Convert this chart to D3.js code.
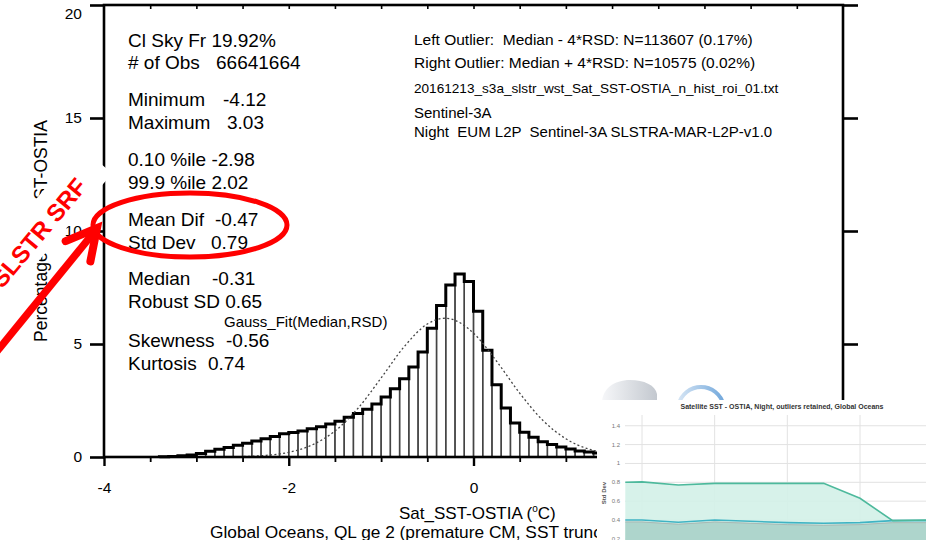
<!DOCTYPE html>
<html><head><meta charset="utf-8">
<script src="https://cdn.jsdelivr.net/npm/d3@7"></script>
<style>
html,body{margin:0;padding:0;background:#fff;overflow:hidden;}
svg{display:block;font-family:"Liberation Sans",Arial,Helvetica,sans-serif;}
text{white-space:pre;}
</style></head><body>
<svg id="c" width="926" height="540"></svg>
<script>
// ---------------- data ----------------
const binStarts = [-3.4,-3.3,-3.2,-3.1,-3.0,-2.9,-2.8,-2.7,-2.6,-2.5,-2.4,-2.3,-2.2,-2.1,-2.0,-1.9,-1.8,-1.7,-1.6,-1.5,-1.4,-1.3,-1.2,-1.1,-1.0,-0.9,-0.8,-0.7,-0.6,-0.5,-0.4,-0.3,-0.2,-0.1,0.0,0.1,0.2,0.3,0.4,0.5,0.6,0.7,0.8,0.9,1.0,1.1,1.2,1.3];
const binPercent = [0.01,0.02,0.05,0.09,0.15,0.25,0.34,0.42,0.52,0.61,0.71,0.81,0.91,1.03,1.08,1.15,1.25,1.34,1.46,1.58,1.76,1.93,2.11,2.35,2.65,3.02,3.46,3.98,4.65,5.7,6.7,7.61,8.1,7.76,6.45,4.72,3.2,2.17,1.5,1.09,0.87,0.68,0.55,0.44,0.35,0.27,0.22,0.18];
const binWidth = 0.1;

const gaussX = [-3.25,-3.0,-2.75,-2.5,-2.25,-2.0,-1.75,-1.5,-1.25,-1.0,-0.75,-0.5,-0.31,-0.25,0,0.25,0.5,0.75,1.0,1.25,1.5,1.75,2.0];
const gaussY = [0.0,0.001,0.005,0.021,0.071,0.209,0.528,1.149,2.158,3.496,4.883,5.884,6.14,6.114,5.48,4.237,2.826,1.624,0.806,0.345,0.127,0.04,0.011];

const xMajorTicks = [-4,-2,0,2,4];
const xMinorTicks = [-3.5,-3,-2.5,-1.5,-1,-0.5,0.5,1,1.5,2.5,3,3.5];
const xTopTicks = [-3.5,-3,-2.5,-2,-1.5,-1,-0.5,0,0.5,1,1.5,2,2.5,3,3.5];
const yTicks = [0,5,10,15,20];

const statNames  = ["Cl Sky Fr","# of Obs","Minimum","Maximum","0.10 %ile","99.9 %ile","Mean Dif","Std Dev","Median","Robust SD","Skewness","Kurtosis"];
const statValues = ["19.92%","66641664","-4.12","3.03","-2.98","2.02","-0.47","0.79","-0.31","0.65","-0.56","0.74"];

const infoLines = ["Left Outlier:  Median - 4*RSD: N=113607 (0.17%)",
                   "Right Outlier: Median + 4*RSD: N=10575 (0.02%)",
                   "20161213_s3a_slstr_wst_Sat_SST-OSTIA_n_hist_roi_01.txt",
                   "Sentinel-3A",
                   "Night  EUM L2P  Sentinel-3A SLSTRA-MAR-L2P-v1.0"];

const xTitle = "Sat_SST-OSTIA (";
const yTitle = "Percentage Sat_SST-OSTIA";
const subTitle = "Global Oceans, QL ge 2 (premature CM, SST truncation)";
const gaussLabel = "Gauss_Fit(Median,RSD)";
const annotText = "SLSTR SRF";

// inset chart
const insetTitle = "Satellite SST - OSTIA, Night, outliers retained, Global Oceans";
const insetT     = [0.77,1.0,1.5,2.0,3.0,3.5,4.0,4.45,4.95];
const insetUpper = [0.80,0.805,0.772,0.789,0.789,0.789,0.63,0.393,0.40];
const insetLower = [0.40,0.40,0.376,0.40,0.372,0.365,0.372,0.393,0.393];
const insetYTicks = [0.2,0.4,0.6,0.8,1,1.2,1.4];
const insetXGrid = [1,2,3,4];

// ---------------- layout ----------------
const statBaselines = [47,69,106,129,166,189,226,249,285,308,347,370];
const statValueX    = [null,216,223,227,null,null,215,211,212,null,226,208];
const infoBaselines = [45,68,93,118,137];
const infoSizes     = [15.5,15.5,13.6,15,15];

const svg = d3.select("#c");
const x = d3.scaleLinear().domain([-4,4]).range([104,843]);
const y = d3.scaleLinear().domain([0,20]).range([457,5]);
const FONT = '"Liberation Sans",Arial,Helvetica,sans-serif';

// ---------------- histogram ----------------
const hist = svg.append("g");
hist.selectAll("rect").data(binStarts).join("rect")
  .attr("x", d => x(d))
  .attr("width", d => x(d + binWidth) - x(d))
  .attr("y", (d,i) => y(binPercent[i]))
  .attr("height", (d,i) => y(0) - y(binPercent[i]))
  .attr("fill", "none").attr("stroke", "#444").attr("stroke-width", 1.4);

const stepPts = [[binStarts[0], 0]];
binStarts.forEach((s,i) => { stepPts.push([s, binPercent[i]]); stepPts.push([s + binWidth, binPercent[i]]); });
hist.append("path")
  .attr("d", d3.line().x(d => x(d[0])).y(d => y(d[1]))(stepPts))
  .attr("fill", "none").attr("stroke", "#000").attr("stroke-width", 3).attr("stroke-linejoin", "miter");

// gaussian
hist.append("path")
  .attr("d", d3.line().x((d,i) => x(gaussX[i])).y(d => y(d)).curve(d3.curveMonotoneX)(gaussY))
  .attr("fill", "none").attr("stroke", "#444").attr("stroke-width", 1.3).attr("stroke-dasharray", "2,2.4");

// ---------------- frame & axes ----------------
svg.append("rect").attr("x", x(-4)).attr("y", y(20)).attr("width", x(4) - x(-4)).attr("height", y(0) - y(20))
  .attr("fill", "none").attr("stroke", "#000").attr("stroke-width", 2.6);

const styleAxis = g => {
  g.select(".domain").remove();
  g.selectAll("text").attr("font-family", FONT).attr("font-size", 15.5).attr("fill", "#000");
};
const yl = svg.append("g").attr("transform", `translate(${x(-4)},0)`)
  .call(d3.axisLeft(y).tickValues(yTicks).tickSize(14).tickPadding(8).tickFormat(d => String(d)))
  .call(styleAxis);
yl.selectAll("line").attr("stroke-width", 2.6);
yl.selectAll(".tick").filter(d => d === 20).select("text").attr("dy", "0.85em");

svg.append("g").attr("transform", `translate(${x(4)},0)`)
  .call(d3.axisRight(y).tickValues(yTicks).tickSize(15).tickFormat(""))
  .call(styleAxis).selectAll("line").attr("stroke-width", 2.6);

svg.append("g").attr("transform", `translate(0,${y(20)})`)
  .call(d3.axisBottom(x).tickValues(xTopTicks).tickSize(4).tickFormat(""))
  .call(styleAxis).selectAll("line").attr("stroke-width", 1.6);

svg.append("g").attr("transform", `translate(0,${y(0)})`)
  .call(d3.axisBottom(x).tickValues(xMinorTicks).tickSize(5).tickFormat(""))
  .call(styleAxis).selectAll("line").attr("stroke-width", 1.8);

const xb = svg.append("g").attr("transform", `translate(0,${y(0)})`)
  .call(d3.axisBottom(x).tickValues(xMajorTicks).tickSize(9).tickPadding(16).tickFormat(d => String(d)))
  .call(styleAxis);
xb.selectAll("line").attr("stroke-width", 2.4);

// axis titles
svg.append("text").attr("transform", "translate(47,231) rotate(-90)")
  .attr("text-anchor", "middle").attr("font-size", 17.5).text(yTitle);

const xt = svg.append("text").attr("x", 399).attr("y", 519).attr("font-size", 17);
xt.append("tspan").text(xTitle);
xt.append("tspan").attr("font-size", 10).attr("dy", -7).text("o");
xt.append("tspan").attr("dy", 7).text("C)");

svg.append("text").attr("x", 210).attr("y", 538).attr("font-size", 17.3).text(subTitle);

// ---------------- stats text ----------------
const st = svg.append("g").attr("font-size", 19);
statNames.forEach((n,i) => {
  const t = st.append("text").attr("x", 128).attr("y", statBaselines[i]);
  if (statValueX[i] === null) { t.text(n + " " + statValues[i]); }
  else { t.append("tspan").text(n); t.append("tspan").attr("x", statValueX[i]).text(statValues[i]); }
});
svg.append("text").attr("x", 224).attr("y", 327).attr("font-size", 15).text(gaussLabel);

infoLines.forEach((s,i) => {
  svg.append("text").attr("x", 414).attr("y", infoBaselines[i]).attr("font-size", infoSizes[i]).text(s);
});

// ---------------- red annotation ----------------
const ann = svg.append("g").attr("transform", "translate(88,187) rotate(-50)");
ann.append("rect").attr("x", -220).attr("y", -32).attr("width", 246).attr("height", 41.7).attr("fill", "#fff");
ann.append("text").attr("text-anchor", "end").attr("font-size", 24).attr("font-weight", "bold")
  .attr("fill", "#ff0000").text(annotText);

const tip = [97, 228];
svg.append("line").attr("x1", -6).attr("y1", 355).attr("x2", tip[0] - 2).attr("y2", tip[1] + 3)
  .attr("stroke", "#ff0000").attr("stroke-width", 7.5);
const back = Math.atan2(119, -97), aLen = 34, spread = 28 * Math.PI / 180;
const head = [
  [tip[0] + aLen * Math.cos(back + spread), tip[1] + aLen * Math.sin(back + spread)],
  tip,
  [tip[0] + aLen * Math.cos(back - spread), tip[1] + aLen * Math.sin(back - spread)]
];
svg.append("path").attr("d", d3.line()(head)).attr("fill", "none")
  .attr("stroke", "#ff0000").attr("stroke-width", 8).attr("stroke-linejoin", "miter").attr("stroke-linecap", "round");

svg.append("ellipse").attr("cx", 190).attr("cy", 225).attr("rx", 97).attr("ry", 32)
  .attr("fill", "none").attr("stroke", "#ff0000").attr("stroke-width", 5);

// ---------------- inset ----------------
const defs = svg.append("defs");
const g1 = defs.append("linearGradient").attr("id", "dome").attr("x1", 0).attr("x2", 1).attr("y1", 0).attr("y2", 0);
g1.append("stop").attr("offset", 0).attr("stop-color", "#f6f7f9");
g1.append("stop").attr("offset", 1).attr("stop-color", "#c3c8cf");
const g2 = defs.append("linearGradient").attr("id", "arc").attr("x1", 0).attr("x2", 1).attr("y1", 0).attr("y2", 0);
g2.append("stop").attr("offset", 0).attr("stop-color", "#d9e7f5");
g2.append("stop").attr("offset", 1).attr("stop-color", "#6fa6db");

svg.append("path").attr("d", "M602,403 C602,389 614,380 630,380 C644,380 655,385 657,394 L657,403 Z")
  .attr("fill", "url(#dome)");
svg.append("path").attr("d", d3.arc()({innerRadius: 21, outerRadius: 25, startAngle: -1.35, endAngle: 1.35}))
  .attr("transform", "translate(701,410)").attr("fill", "url(#arc)");

const inset = svg.append("g");
inset.append("rect").attr("x", 597).attr("y", 400).attr("width", 329).attr("height", 140).attr("fill", "#fff");
inset.append("text").attr("x", 782).attr("y", 408.5).attr("text-anchor", "middle")
  .attr("font-size", 7).attr("font-weight", "bold").attr("fill", "#333").text(insetTitle);

const ix = d3.scaleLinear().domain([1,4]).range([642,860]);
const iy = d3.scaleLinear().domain([0.4,1.4]).range([520,425.75]);
const iLeft = 625, iRight = 926, iTop = 415, iBottom = 545;
defs.append("clipPath").attr("id", "iclip").append("rect")
  .attr("x", iLeft).attr("y", iTop).attr("width", iRight - iLeft).attr("height", iBottom - iTop);
const ip = inset.append("g").attr("clip-path", "url(#iclip)");

ip.selectAll("line.h").data(insetYTicks).join("line").attr("class", "h")
  .attr("x1", iLeft).attr("x2", iRight).attr("y1", d => iy(d)).attr("y2", d => iy(d))
  .attr("stroke", "#e2e2e2").attr("stroke-width", 1);
ip.selectAll("line.v").data(insetXGrid).join("line").attr("class", "v")
  .attr("x1", d => ix(d)).attr("x2", d => ix(d)).attr("y1", iTop).attr("y2", iBottom)
  .attr("stroke", "#e2e2e2").attr("stroke-width", 1);

ip.append("path").attr("d", d3.area().x((d,i) => ix(insetT[i])).y0(iBottom).y1(d => iy(d))(insetUpper))
  .attr("fill", "#d3f1e8").attr("fill-opacity", 0.9);
ip.append("path").attr("d", d3.area().x((d,i) => ix(insetT[i])).y0(iBottom).y1(d => iy(d) + 1.5)(insetLower))
  .attr("fill", "#aed5cc");
ip.append("path").attr("d", d3.line().x((d,i) => ix(insetT[i])).y(d => iy(d) + 2)(insetLower))
  .attr("fill", "none").attr("stroke", "#a9b9b5").attr("stroke-width", 1);
ip.append("path").attr("d", d3.line().x((d,i) => ix(insetT[i])).y(d => iy(d))(insetLower))
  .attr("fill", "none").attr("stroke", "#3fb3c3").attr("stroke-width", 1.6);
ip.append("path").attr("d", d3.line().x((d,i) => ix(insetT[i])).y(d => iy(d))(insetUpper))
  .attr("fill", "none").attr("stroke", "#4db99c").attr("stroke-width", 1.6);

inset.selectAll("text.yt").data(insetYTicks).join("text").attr("class", "yt")
  .attr("x", 620).attr("y", d => iy(d) + 2).attr("text-anchor", "end")
  .attr("font-size", 6).attr("fill", "#777").text(d => String(d));
inset.append("text").attr("transform", "translate(606,493) rotate(-90)").attr("text-anchor", "middle")
  .attr("font-size", 6).attr("font-weight", "bold").attr("fill", "#555").text("Std Dev");
</script>
</body></html>
